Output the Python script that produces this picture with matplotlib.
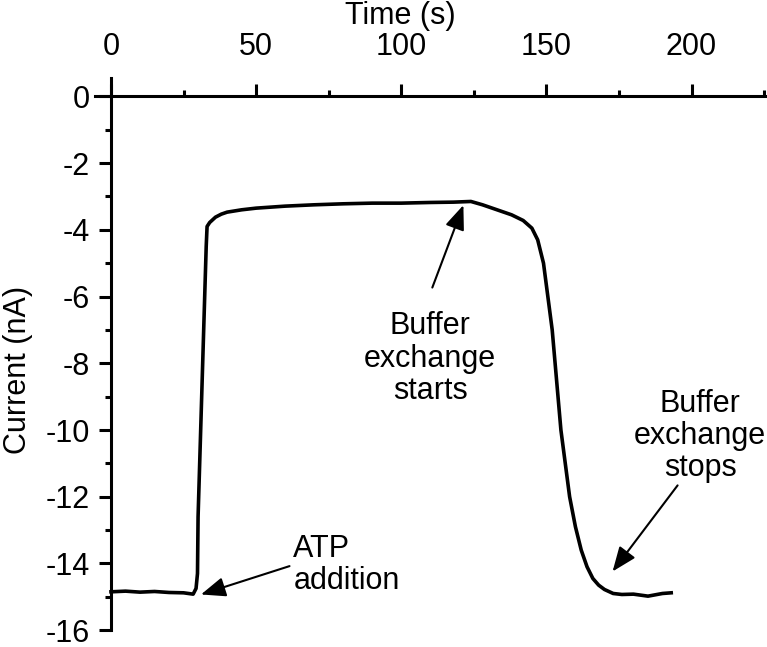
import numpy as np
import matplotlib
matplotlib.use("Agg")
import matplotlib.pyplot as plt

plt.rcParams['font.family'] = ['Liberation Sans', 'DejaVu Sans']
plt.rcParams['axes.unicode_minus'] = False

# трасса тока
time_s = [0, 5, 10, 15, 20, 25, 28.3, 29.3, 29.8, 30.0, 31.0, 32.0, 32.8, 33.1,
          34, 36, 38, 40, 45, 50, 60, 70, 80, 90, 100, 110, 118, 124,
          128, 133, 138, 142, 145, 147, 149, 150.5, 152, 153, 154, 155, 156.5,
          158, 160, 162, 164, 166, 168, 170, 173, 176, 180, 185, 190, 193]
current_nA = [-14.85, -14.83, -14.86, -14.84, -14.87, -14.88, -14.92, -14.75, -14.3, -12.6, -9.7, -6.8, -4.5, -3.9,
              -3.78, -3.62, -3.53, -3.47, -3.4, -3.35, -3.29, -3.25, -3.22, -3.2, -3.2, -3.18, -3.17, -3.15,
              -3.25, -3.4, -3.55, -3.72, -3.95, -4.3, -5.0, -6.0, -7.0, -8.0, -9.0, -10.0, -11.0,
              -12.0, -12.9, -13.6, -14.1, -14.45, -14.65, -14.78, -14.9, -14.93, -14.92, -14.98, -14.9, -14.88]

x_ticks = [0, 50, 100, 150, 200]
y_ticks = [0, -2, -4, -6, -8, -10, -12, -14, -16]

# подписи: текст, позиция текста, хвост и острие стрелки
labels = ["ATP\naddition", "Buffer\nexchange\nstarts", "Buffer\nexchange\nstops"]
label_xy = [(62.8, -14.05), (110, -7.86), (203, -10.18)]
label_ha = ["left", "center", "center"]
arrow_tail = [(61.5, -14.08), (110.7, -5.73), (195.2, -11.66)]
arrow_tip = [(31.0, -14.93), (121.4, -3.26), (172.8, -14.24)]

fig = plt.figure(figsize=(7.67, 6.47), dpi=100)
ax = fig.add_axes([0.1239, 0.026, 0.8761, 0.8534])

ax.plot(time_s, current_nA, color='black', lw=2.6, solid_joinstyle='round')

ax.set_xlim(-5.5, 226)
ax.set_ylim(-16, 0.55)

ax.spines['right'].set_visible(False)
ax.spines['bottom'].set_visible(False)
ax.spines['top'].set_position(('data', 0))
ax.spines['left'].set_position(('data', 0))
for s in ('top', 'left'):
    ax.spines[s].set_linewidth(2.2)

ax.xaxis.set_ticks_position('top')
ax.set_xticks(x_ticks)
ax.set_xticks([25, 75, 125, 175, 225], minor=True)
ax.set_yticks(y_ticks)
ax.set_yticks(np.arange(-15, 0, 2), minor=True)

ax.tick_params(which='major', direction='out', length=9, width=2.2, labelsize=22)
ax.tick_params(which='minor', direction='out', length=4.5, width=2.2)
ax.tick_params(axis='x', which='major', pad=16)
ax.tick_params(axis='y', which='major', pad=6)

fig.text(400 / 767, 1 - 16 / 647, 'Time (s)', fontsize=22, ha='center', va='center')
fig.text(18 / 767, 1 - 370 / 647, 'Current (nA)', fontsize=22, ha='center', va='center',
         rotation=90)

for txt, pos, tail, tip, ha in zip(labels, label_xy, arrow_tail, arrow_tip, label_ha):
    ax.text(pos[0], pos[1], txt, fontsize=22, ha=ha, va='center', linespacing=1.1,
            multialignment='center' if ha == 'center' else 'left')
    ax.annotate('', xy=tip, xytext=tail,
                arrowprops=dict(arrowstyle='-|>,head_length=0.75,head_width=0.3',
                                mutation_scale=20, lw=1.5, color='black',
                                shrinkA=0, shrinkB=0))

fig.savefig('out.png', dpi=100)
